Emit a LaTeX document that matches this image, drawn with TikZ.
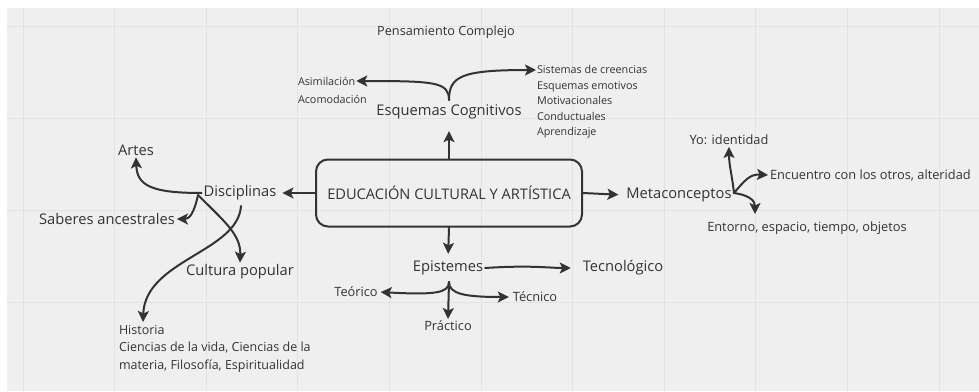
\documentclass[tikz,border=0pt]{standalone}
\usepackage{fontspec}
\setmainfont{Open Sans}
\usetikzlibrary{arrows.meta}
\definecolor{ink}{HTML}{333333}
\definecolor{paper}{HTML}{EFEFEF}
\definecolor{gridline}{HTML}{E3E3E3}

\begin{document}
\begin{tikzpicture}[x=1pt, y=-1pt, line width=2pt, ink,
    >={Stealth[length=11pt, width=11pt, inset=2.5pt]},
    big/.style={font=\fontsize{14.7}{17}\selectfont, inner sep=1pt},
    mid/.style={font=\fontsize{12.8}{15}\selectfont, inner sep=1pt},
    small/.style={font=\fontsize{10.8}{15.5}\selectfont, inner sep=0pt, align=left},
    link/.style={->, line cap=round}]
  \useasboundingbox (0,0) rectangle (979,391);
  \fill[white] (0,0) rectangle (979,391);
  \fill[paper] (7,8) rectangle (979,391);
  \foreach \gx in {23,114.6,...,960} \draw[gridline, line width=0.8pt] (\gx,8) -- (\gx,391);
  \foreach \gy in {26,118,...,391} \draw[gridline, line width=0.8pt] (7,\gy) -- (979,\gy);

  % centre
  \node[draw, rounded corners=12pt, minimum width=266pt, minimum height=67pt,
        font=\fontsize{14.6}{17}\selectfont] (ece) at (449,193) {EDUCACIÓN CULTURAL Y ARTÍSTICA};

  % top
  \node[font=\fontsize{12.7}{15}\selectfont] (pens) at (446,32) {Pensamiento Complejo};
  \node[big] (esq) at (449,112) {Esquemas Cognitivos};
  \node[small, anchor=west] (asim) at (297,81) {Asimilación};
  \node[small, anchor=west] (acom) at (297,99) {Acomodación};
  \node[small, anchor=west] (creen) at (536,102) {Sistemas de creencias\\Esquemas emotivos\\Motivacionales\\Conductuales\\Aprendizaje};
  \coordinate (esqfork) at (449,100);
  \coordinate (creenin) at (536,70);
  \draw[link, shorten >=10pt] (ece.north) -- (esq.south);
  \draw[link] (esqfork) .. controls (449,82) and (435,81) .. (asim.east);
  \draw[link] (esqfork) .. controls (449,76) and (462,70) .. (creenin);

  % right
  \node[big] (meta) at (679,195) {Metaconceptos};
  \node[mid] (yo) at (729,140) {Yo: identidad};
  \node[mid, anchor=west] (otros) at (768,175) {Encuentro con los otros, alteridad};
  \node[mid] (ent) at (807,228) {Entorno, espacio, tiempo, objetos};
  \coordinate (metafork) at (734,193);
  \coordinate (entin) at (755,214);
  \draw[link, shorten >=6pt] (ece.east) -- (meta.west);
  \draw[link] (metafork) .. controls (732,175) and (729,165) .. (yo.south);
  \draw[link] (metafork) .. controls (745,180) and (750,174) .. (otros.west);
  \draw[link] (metafork) .. controls (748,195) and (755,200) .. (entin);

  % bottom
  \node[big] (epi) at (448,268) {Epistemes};
  \node[big] (tec) at (623,268) {Tecnológico};
  \node[mid] (teo) at (356,292) {Teórico};
  \node[mid] (tecn) at (535,297) {Técnico};
  \node[mid] (prac) at (448,326) {Práctico};
  \coordinate (epifork) at (449,282);
  \draw[link, shorten >=5pt] (ece.south) -- (epi.north);
  \draw[link, shorten >=10pt] (epi.east) .. controls (530,265) and (550,268) .. (tec.west);
  \draw[link, shorten >=1pt] (epifork) .. controls (449,293) and (435,295) .. (teo.east);
  \draw[link, shorten >=2pt] (epifork) .. controls (449,294) and (465,297) .. (tecn.west);
  \draw[link] (epifork) -- (prac.north);

  % left
  \node[big] (disc) at (240,193) {Disciplinas};
  \node[big] (artes) at (136,150) {Artes};
  \node[big] (sab) at (107,219) {Saberes ancestrales};
  \node[big] (cult) at (240,272) {Cultura popular};
  \node[mid, anchor=west, align=left, inner sep=0pt, font=\fontsize{12.5}{17.5}\selectfont] (hist) at (118,348.5)
    {Historia\\Ciencias de la vida, Ciencias de la\\materia, Filosofía, Espiritualidad};
  \coordinate (discfork) at (198,195);
  \coordinate (histout) at (241,206);
  \coordinate (histin) at (143,322);
  \draw[link, shorten >=4pt] (ece.west) -- (disc.east);
  \draw[link] (disc.west) .. controls (150,193) and (137,185) .. (artes.south);
  \draw[link] (discfork) .. controls (194,214) and (189,219) .. (sab.east);
  \draw[link] (discfork) .. controls (225,222) and (241,235) .. (cult.north);
  \draw[link] (histout) .. controls (238,252) and (145,260) .. (histin);
\end{tikzpicture}
\end{document}
